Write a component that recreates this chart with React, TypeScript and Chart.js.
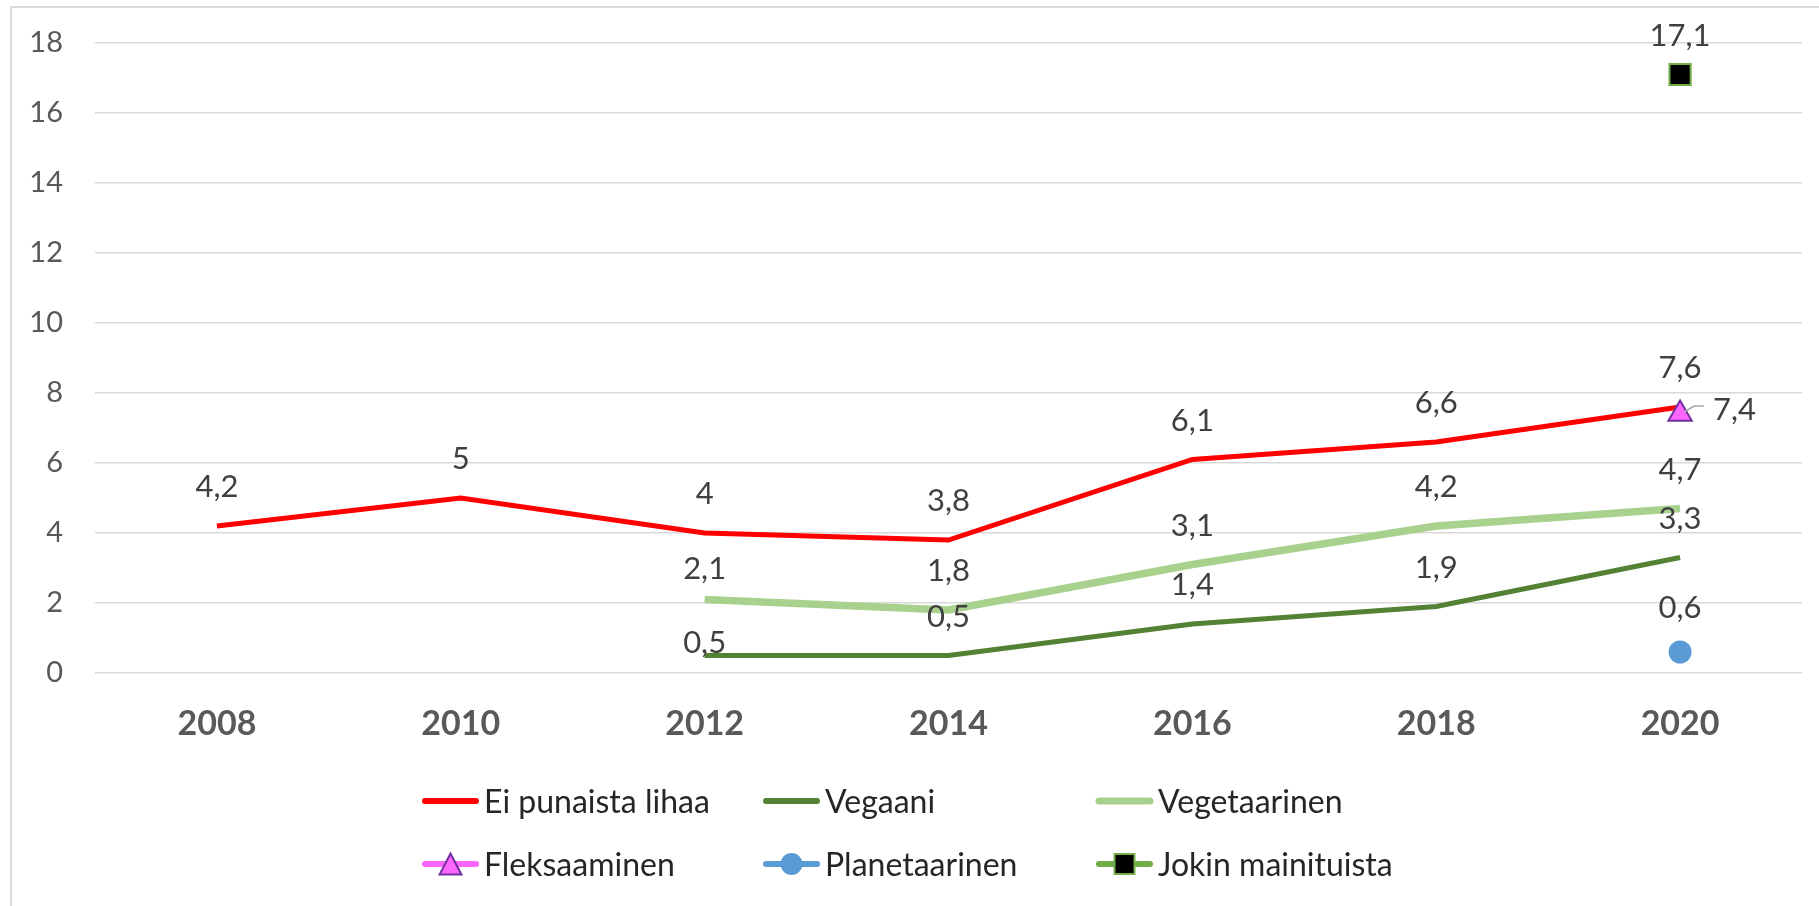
import React, { useEffect, useRef } from 'react';
import { Chart, registerables } from 'chart.js';

Chart.register(...registerables);

// ---- data ----
const years = ['2008', '2010', '2012', '2014', '2016', '2018', '2020'];
const eiPunaistaLihaa = [4.2, 5, 4, 3.8, 6.1, 6.6, 7.6];
const vegaani = [null, null, 0.5, 0.5, 1.4, 1.9, 3.3];
const vegetaarinen = [null, null, 2.1, 1.8, 3.1, 4.2, 4.7];
const fleksaaminen = [null, null, null, null, null, null, 7.4];
const planetaarinen = [null, null, null, null, null, null, 0.6];
const jokinMainituista = [null, null, null, null, null, null, 17.1];
const seriesNames = ['Ei punaista lihaa', 'Vegaani', 'Vegetaarinen', 'Fleksaaminen', 'Planetaarinen', 'Jokin mainituista'];
const yMin = 0;
const yMax = 18;
const yStep = 2;

// ---- styles ----
const FONT = 'Lato, "Open Sans", sans-serif';
const RED = '#FF0000';
const DARKGREEN = '#548235';
const LIGHTGREEN = '#A9D18E';
const MAGENTA = '#FF66FF';
const PURPLE = '#7030A0';
const BLUE = '#5B9BD5';
const GREEN = '#70AD47';
const LABEL_COLOR = '#404040';

// per-label vertical offsets (px above point), default 39
const labelOffsetOverride: Record<string, number> = {
  '1:2': 13,
  '2:2': 31,
  '4:6': 44,
};

const fmt = (v: number) => String(v).replace('.', ',');

const borderPlugin = {
  id: 'bgBorder',
  beforeDraw(chart: any) {
    const ctx = chart.ctx;
    ctx.save();
    ctx.fillStyle = '#ffffff';
    ctx.fillRect(0, 0, chart.width, chart.height);
    ctx.strokeStyle = '#D9D9D9';
    ctx.lineWidth = 2;
    ctx.strokeRect(11, 7, chart.width + 40, chart.height + 40);
    ctx.restore();
  },
};

const labelsPlugin = {
  id: 'valueLabels',
  afterDatasetsDraw(chart: any) {
    const ctx = chart.ctx;
    ctx.save();
    ctx.font = `31px ${FONT}`;
    ctx.fillStyle = LABEL_COLOR;
    ctx.textBaseline = 'middle';
    chart.data.datasets.forEach((ds: any, di: number) => {
      const meta = chart.getDatasetMeta(di);
      ds.data.forEach((v: any, i: number) => {
        if (v === null || v === undefined) return;
        const el = meta.data[i];
        if (!el) return;
        const x = el.x;
        const y = el.y;
        if (di === 3) {
          ctx.save();
          ctx.strokeStyle = '#A6A6A6';
          ctx.lineWidth = 1.5;
          ctx.beginPath();
          ctx.moveTo(x + 4, y - 2);
          ctx.lineTo(x + 14, y - 8);
          ctx.lineTo(x + 24, y - 8);
          ctx.stroke();
          ctx.restore();
          ctx.textAlign = 'left';
          ctx.fillText(fmt(v), x + 33, y - 4);
          return;
        }
        const off = labelOffsetOverride[`${di}:${i}`] ?? 39;
        ctx.textAlign = 'center';
        ctx.fillText(fmt(v), x, y - off);
      });
    });
    ctx.restore();
  },
};

function drawMarker(ctx: CanvasRenderingContext2D, kind: string, x: number, y: number, scale = 1) {
  ctx.save();
  ctx.lineWidth = 2;
  if (kind === 'triangle') {
    const w = 23 * scale;
    const h = 22 * scale;
    ctx.fillStyle = MAGENTA;
    ctx.strokeStyle = PURPLE;
    ctx.beginPath();
    ctx.moveTo(x, y - h / 2);
    ctx.lineTo(x + w / 2, y + h / 2);
    ctx.lineTo(x - w / 2, y + h / 2);
    ctx.closePath();
    ctx.fill();
    ctx.stroke();
  } else if (kind === 'circle') {
    ctx.fillStyle = BLUE;
    ctx.beginPath();
    ctx.arc(x, y, 11.5 * scale, 0, Math.PI * 2);
    ctx.fill();
  } else if (kind === 'rect') {
    const s = 21 * scale;
    ctx.fillStyle = '#000000';
    ctx.strokeStyle = GREEN;
    ctx.fillRect(x - s / 2, y - s / 2, s, s);
    ctx.strokeRect(x - s / 2, y - s / 2, s, s);
  }
  ctx.restore();
}

const legendItems = [
  { color: RED, width: 6, marker: '' },
  { color: DARKGREEN, width: 6, marker: '' },
  { color: LIGHTGREEN, width: 7, marker: '' },
  { color: MAGENTA, width: 6, marker: 'triangle' },
  { color: BLUE, width: 6, marker: 'circle' },
  { color: GREEN, width: 6, marker: 'rect' },
];

const legendPlugin = {
  id: 'gridLegend',
  afterDraw(chart: any) {
    const ctx = chart.ctx;
    const cols = [422, 763, 1096];
    const rows = [801, 864];
    ctx.save();
    ctx.font = `32px ${FONT}`;
    ctx.textBaseline = 'middle';
    ctx.textAlign = 'left';
    legendItems.forEach((it, i) => {
      const x = cols[i % 3];
      const y = rows[Math.floor(i / 3)];
      ctx.strokeStyle = it.color;
      ctx.lineWidth = it.width;
      ctx.lineCap = 'round';
      ctx.beginPath();
      ctx.moveTo(x + 3, y);
      ctx.lineTo(x + 54, y);
      ctx.stroke();
      if (it.marker) drawMarker(ctx, it.marker, x + 28.5, y, 0.95);
      ctx.fillStyle = '#262626';
      ctx.fillText(seriesNames[i], x + 62, y + 2);
    });
    ctx.restore();
  },
};

export default function App() {
  const ref = useRef<HTMLCanvasElement>(null);

  useEffect(() => {
    document.body.style.margin = '0';
    const canvas = ref.current;
    if (!canvas) return;
    const yTicks: number[] = [];
    for (let v = yMin; v <= yMax; v += yStep) yTicks.push(v);

    const chart = new Chart(canvas, {
      type: 'line',
      data: {
        labels: years,
        datasets: [
          {
            label: seriesNames[0],
            data: eiPunaistaLihaa,
            borderColor: RED,
            backgroundColor: RED,
            borderWidth: 5,
            pointRadius: 0,
            tension: 0,
            order: 6,
          },
          {
            label: seriesNames[1],
            data: vegaani,
            borderColor: DARKGREEN,
            backgroundColor: DARKGREEN,
            borderWidth: 5,
            pointRadius: 0,
            order: 5,
          },
          {
            label: seriesNames[2],
            data: vegetaarinen,
            borderColor: LIGHTGREEN,
            backgroundColor: LIGHTGREEN,
            borderWidth: 7.5,
            pointRadius: 0,
            order: 4,
          },
          {
            label: seriesNames[3],
            data: fleksaaminen,
            borderColor: MAGENTA,
            backgroundColor: MAGENTA,
            pointStyle: 'triangle',
            pointRadius: 13.5,
            pointBackgroundColor: MAGENTA,
            pointBorderColor: PURPLE,
            pointBorderWidth: 2,
            order: 3,
          },
          {
            label: seriesNames[4],
            data: planetaarinen,
            borderColor: BLUE,
            backgroundColor: BLUE,
            pointStyle: 'circle',
            pointRadius: 11.5,
            pointBackgroundColor: BLUE,
            pointBorderColor: BLUE,
            pointBorderWidth: 0,
            order: 2,
          },
          {
            label: seriesNames[5],
            data: jokinMainituista,
            borderColor: GREEN,
            backgroundColor: '#000000',
            pointStyle: 'rect',
            pointRadius: 15,
            pointBackgroundColor: '#000000',
            pointBorderColor: GREEN,
            pointBorderWidth: 2,
            order: 1,
          },
        ],
      },
      options: {
        responsive: false,
        animation: false,
        devicePixelRatio: 1,
        layout: { padding: { top: 43, right: 13, left: 0, bottom: 0 } },
        plugins: {
          legend: { display: false },
          tooltip: { enabled: false },
          title: { display: false },
        },
        scales: {
          x: {
            type: 'category',
            offset: true,
            grid: { display: false, drawTicks: false },
            border: { display: false },
            ticks: {
              font: { family: FONT, size: 34, weight: 'bold' },
              color: '#595959',
              padding: 31,
              maxRotation: 0,
            },
            afterFit(scale: any) {
              scale.height = 233;
            },
          },
          y: {
            min: yMin,
            max: yMax,
            afterBuildTicks(scale: any) {
              scale.ticks = yTicks.map((v) => ({ value: v }));
            },
            grid: { color: '#D9D9D9', lineWidth: 1.5, drawTicks: false },
            border: { display: false },
            ticks: {
              font: { family: FONT, size: 29 },
              color: '#595959',
              padding: 32,
            },
            afterFit(scale: any) {
              scale.width = 95;
              scale.paddingTop = 0;
              scale.paddingBottom = 0;
            },
          },
        },
      },
      plugins: [borderPlugin, labelsPlugin, legendPlugin],
    } as any);

    document.fonts?.ready.then(() => chart.update());

    return () => chart.destroy();
  }, []);

  return (
    <div style={{ width: 1819, height: 906, overflow: 'hidden' }}>
      <canvas ref={ref} width={1819} height={906} style={{ display: 'block' }} />
    </div>
  );
}
